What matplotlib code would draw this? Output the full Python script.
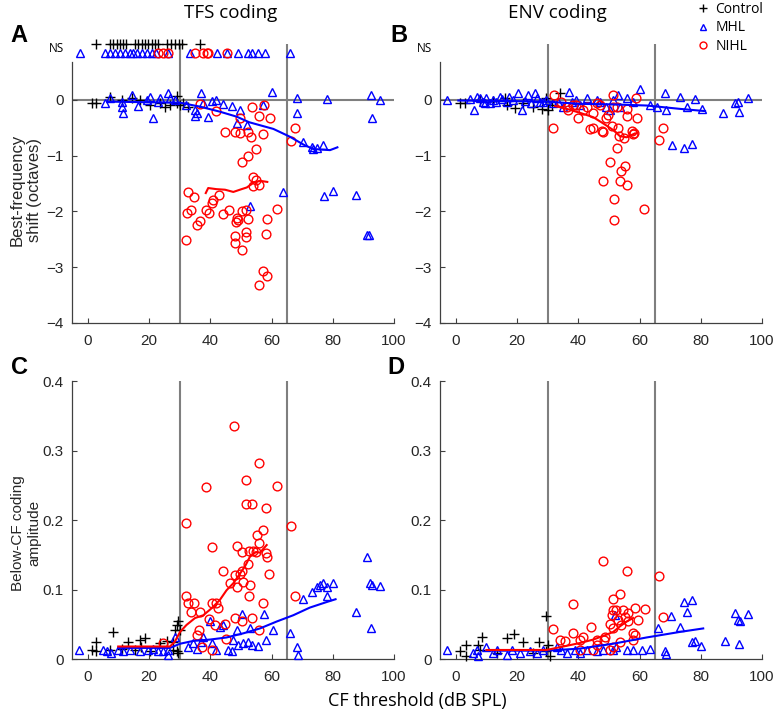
import matplotlib
matplotlib.use("Agg")
import matplotlib.pyplot as plt
from matplotlib.lines import Line2D

# ---------- A: TFS best-frequency shift ----------
a_ctl_x = [1.2, 2.6, 7.2, 11.0, 14.3, 17.0, 20.3, 23.5, 25.2, 26.8, 29.0, 29.0, 30.1, 31.1, 32.8]
a_ctl_y = [-0.05, -0.05, 0.06, 0.0, 0.03, 0.0, -0.09, -0.06, -0.13, -0.09, 0.07, -0.06, -0.09, -0.06, -0.12]
a_ctl_ns_x = [2.8, 7.2, 8.3, 9.4, 10.5, 11.6, 12.4, 15.4, 16.5, 17.6, 18.6, 19.7, 20.8, 21.9, 23.0,
              25.7, 27.0, 28.4, 29.7, 30.9, 36.6]
a_mhl_x = [5.6, 7.2, 11.0, 11.0, 11.5, 14.3, 16.4, 19.2, 20.3, 21.3, 23.0, 23.5, 26.2, 26.8, 28.4,
           32.2, 35.0, 35.0, 35.5, 37.1, 37.7, 39.3, 40.4, 42.0, 44.2, 47.0, 48.6, 49.7, 51.9, 57.3,
           60.0, 68.4, 68.4, 70.4, 73.1, 73.6, 74.7, 76.9, 78.0, 92.4, 92.7, 95.4, 52.9, 63.6, 77.1,
           80.0, 87.6, 91.3, 91.9]
a_mhl_y = [-0.06, 0.03, -0.03, -0.13, -0.23, 0.09, -0.11, 0.0, 0.06, -0.33, -0.03, 0.03, 0.12, 0.03, 0.0,
           -0.09, -0.18, -0.29, -0.23, 0.12, -0.05, -0.31, -0.01, 0.0, -0.07, -0.11, -0.41, -0.18, -0.45, -0.09,
           0.15, 0.03, -0.23, -0.75, -0.85, -0.88, -0.87, -0.80, 0.01, 0.09, -0.32, 0.0, -1.90, -1.66, -1.73,
           -1.63, -1.71, -2.42, -2.42]
a_mhl_ns_x = [-2.6, 5.6, 7.2, 8.9, 10.5, 12.1, 13.8, 14.8, 15.9, 17.6, 19.2, 20.8, 22.4, 26.3, 33.4,
              42.1, 45.3, 49.1, 52.4, 53.5, 55.7, 57.8, 66.0]
a_nihl_x = [36.6, 41.8, 44.8, 48.0, 49.7, 49.7, 52.4, 53.2, 53.5, 56.0, 57.5, 57.3, 59.5, 66.2, 67.6,
            50.5, 52.4, 54.9, 53.8, 54.9, 56.0, 53.8, 32.8, 34.6, 42.7, 40.9, 40.4, 32.3, 33.7, 38.5,
            39.6, 44.0, 46.1, 36.6, 35.8, 48.6, 48.9, 48.4, 50.5, 51.6, 52.4, 58.4, 61.7, 31.9, 48.0,
            48.0, 51.6, 51.6, 50.5, 58.2, 57.3, 58.4, 56.0]
a_nihl_y = [-0.07, -0.20, -0.57, -0.57, -0.33, -0.60, -0.57, -0.66, -0.12, -0.29, -0.09, -0.61, -0.32, -0.73, -0.51,
            -1.12, -1.00, -0.88, -1.38, -1.43, -1.52, -1.55, -1.65, -1.74, -1.70, -1.79, -1.84, -2.03, -1.97, -1.97,
            -2.02, -2.05, -1.98, -2.18, -2.24, -2.12, -2.16, -2.19, -1.99, -1.97, -2.13, -2.13, -1.96, -2.52, -2.44,
            -2.56, -2.36, -2.45, -2.70, -2.40, -3.06, -3.15, -3.32]
a_nihl_ns_x = [23.0, 24.6, 26.3, 35.0, 37.7, 38.8, 39.3, 45.3]
a_mhl_fit_x = [6.6, 18.1, 30.1, 36.6, 43.1, 48.6, 52.7, 60.6, 66.0, 70.4, 73.6, 79.1, 81.5]
a_mhl_fit_y = [-0.03, -0.04, -0.05, -0.12, -0.21, -0.30, -0.40, -0.52, -0.66, -0.80, -0.88, -0.90, -0.85]
a_nihl_fit_x = [38.5, 39.3, 42.0, 44.8, 47.5, 50.2, 51.9, 54.0, 56.2, 58.6]
a_nihl_fit_y = [-1.67, -1.58, -1.60, -1.61, -1.65, -1.60, -1.57, -1.49, -1.45, -1.47]

# ---------- B: ENV best-frequency shift ----------
b_ctl_x = [1.3, 2.9, 7.8, 12.2, 16.0, 16.6, 19.3, 22.0, 25.3, 28.0, 30.2, 31.3, 34.0, 29.6]
b_ctl_y = [-0.05, -0.05, 0.0, -0.01, 0.03, -0.09, -0.15, -0.05, -0.13, -0.17, -0.18, -0.09, 0.12, 0.03]
b_mhl_x = [-2.8, 5.9, 6.8, 7.8, 8.9, 11.1, 12.2, 14.4, 16.6, 18.7, 20.4, 21.5, 23.6, 25.8, 27.5,
           29.6, 31.8, 33.4, 35.1, 37.0, 37.8, 39.4, 40.5, 42.7, 46.0, 47.1, 49.2, 50.3, 51.4, 53.0,
           53.6, 55.8, 57.9, 60.1, 63.4, 65.6, 68.3, 68.6, 70.5, 73.2, 74.5, 75.4, 77.0, 78.1, 80.3,
           87.4, 91.2, 92.3, 92.6, 95.5, 4.5, 9.5, 10.0, 13.0, 15.0, 17.5, 22.5, 24.5, 26.5, 28.5]
b_mhl_y = [0.0, -0.18, 0.06, 0.03, -0.03, -0.06, 0.0, 0.06, -0.03, 0.0, 0.12, -0.18, 0.09, 0.13, -0.03,
           0.0, -0.06, -0.03, -0.12, 0.15, -0.03, 0.0, -0.09, 0.03, 0.0, -0.03, -0.12, -0.18, 0.0, 0.09,
           -0.12, 0.03, -0.03, 0.19, -0.09, -0.13, 0.12, -0.18, -0.81, 0.06, -0.87, -0.12, -0.79, 0.01, -0.17,
           -0.24, -0.06, -0.03, -0.21, 0.03, 0.02, -0.05, 0.04, -0.04, 0.02, 0.05, -0.02, -0.06, 0.03, -0.04]
b_nihl_x = [31.8, 32.0, 34.5, 36.7, 38.3, 40.0, 41.6, 44.9, 46.0, 43.8, 44.9, 47.6, 48.1, 49.0, 49.8,
            50.9, 51.4, 52.7, 53.0, 53.4, 55.0, 55.8, 56.0, 57.4, 57.9, 58.1, 59.0, 59.3, 52.7, 66.4,
            67.8, 36.2, 39.4, 42.7, 47.1, 51.4, 50.5, 55.2, 53.8, 47.9, 53.6, 55.8, 51.6, 61.5, 51.6]
b_nihl_y = [-0.50, 0.09, -0.03, -0.18, -0.09, -0.33, -0.18, -0.23, -0.06, -0.53, -0.50, -0.55, -0.57, -0.33, -0.27,
            -0.47, 0.09, -0.13, -0.51, -0.65, -0.69, -0.17, -0.29, -0.55, -0.61, -0.60, 0.03, -0.32, -0.87, -0.72,
            -0.51, -0.13, -0.09, -0.12, -0.09, -0.12, -1.12, -1.18, -1.27, -1.46, -1.46, -1.53, -1.78, -1.96, -2.16]
b_mhl_fit_x = [0.8, 16.6, 29.6, 40.5, 51.4, 62.3, 73.2, 81.4]
b_mhl_fit_y = [-0.01, -0.02, -0.03, -0.07, -0.08, -0.10, -0.16, -0.20]
b_nihl_fit_x = [32.4, 36.2, 40.5, 44.9, 48.1, 51.4, 53.6, 55.8, 58.5]
b_nihl_fit_y = [-0.11, -0.16, -0.23, -0.31, -0.42, -0.54, -0.65, -0.67, -0.60]

# ---------- C: TFS below-CF amplitude ----------
c_ctl_x = [1.2, 2.8, 2.8, 8.3, 7.2, 11.0, 13.2, 15.4, 17.0, 18.6, 17.5, 20.3, 23.5, 25.7, 27.9,
           29.0, 29.5, 28.4, 30.1, 29.0, 29.5, 27.9]
c_ctl_y = [0.013, 0.025, 0.011, 0.039, 0.013, 0.015, 0.025, 0.013, 0.028, 0.030, 0.018, 0.011, 0.023, 0.026, 0.013,
           0.049, 0.054, 0.042, 0.042, 0.011, 0.008, 0.025]
c_mhl_x = [-2.8, 5.0, 6.1, 7.7, 9.9, 11.5, 13.7, 17.0, 19.7, 21.3, 23.0, 24.6, 26.2, 26.2, 28.4,
           32.8, 34.4, 35.5, 37.1, 37.7, 39.9, 40.4, 42.0, 43.1, 44.2, 45.9, 47.0, 47.5, 48.6, 49.1,
           50.2, 50.8, 52.4, 52.9, 53.5, 55.7, 57.5, 58.2, 60.6, 66.0, 68.2, 68.7, 70.4, 73.3, 74.7,
           75.8, 76.9, 78.0, 78.0, 80.2, 87.6, 91.3, 92.2, 92.7, 92.4, 95.4]
c_mhl_y = [0.013, 0.013, 0.011, 0.008, 0.013, 0.011, 0.013, 0.011, 0.013, 0.015, 0.011, 0.011, 0.013, 0.006, 0.032,
           0.018, 0.023, 0.015, 0.025, 0.032, 0.054, 0.023, 0.013, 0.046, 0.049, 0.013, 0.011, 0.027, 0.042, 0.020,
           0.065, 0.023, 0.025, 0.044, 0.020, 0.019, 0.065, 0.027, 0.042, 0.037, 0.018, 0.006, 0.087, 0.097, 0.104,
           0.106, 0.109, 0.104, 0.090, 0.110, 0.068, 0.147, 0.110, 0.106, 0.044, 0.105]
c_nihl_x = [47.8, 55.8, 51.5, 38.5, 61.7, 51.5, 53.7, 58.3, 31.9, 66.3, 57.2, 55.1, 56.0, 40.5, 48.6,
            50.5, 52.7, 53.8, 54.9, 58.2, 58.4, 59.3, 44.0, 52.4, 50.5, 48.0, 49.7, 46.4, 48.6, 50.8,
            52.9, 52.7, 32.2, 32.8, 34.7, 33.7, 36.6, 40.4, 42.0, 42.6, 39.6, 36.4, 41.5, 44.8, 50.2,
            48.0, 53.5, 57.3, 56.0, 45.1, 35.7, 37.2, 40.4, 67.6, 24.6]
c_nihl_y = [0.335, 0.282, 0.258, 0.247, 0.249, 0.223, 0.223, 0.217, 0.196, 0.192, 0.185, 0.179, 0.167, 0.161, 0.163,
            0.154, 0.155, 0.156, 0.154, 0.153, 0.147, 0.122, 0.127, 0.137, 0.126, 0.121, 0.123, 0.109, 0.104, 0.111,
            0.106, 0.090, 0.090, 0.080, 0.081, 0.067, 0.068, 0.080, 0.080, 0.074, 0.057, 0.042, 0.049, 0.050, 0.054,
            0.059, 0.059, 0.081, 0.042, 0.029, 0.035, 0.018, 0.013, 0.091, 0.023]
c_mhl_fit_x = [9.9, 26.8, 30.1, 34.4, 39.9, 45.3, 50.8, 56.2, 61.7, 67.1, 72.5, 78.0, 80.9]
c_mhl_fit_y = [0.016, 0.016, 0.022, 0.026, 0.028, 0.031, 0.037, 0.044, 0.054, 0.063, 0.074, 0.082, 0.086]
c_nihl_fit_x = [9.9, 26.8, 28.4, 30.1, 32.2, 35.0, 37.7, 40.4, 43.1, 45.3, 47.5, 49.7, 51.4, 52.9, 54.9, 56.2, 58.4]
c_nihl_fit_y = [0.018, 0.018, 0.025, 0.039, 0.049, 0.059, 0.063, 0.073, 0.085, 0.099, 0.109, 0.123, 0.134, 0.147,
                0.154, 0.153, 0.164]

# ---------- D: ENV below-CF amplitude ----------
d_ctl_x = [1.3, 3.3, 3.3, 7.3, 8.4, 16.6, 19.1, 21.8, 27.2, 29.4, 29.6, 30.2, 30.7, 7.8, 13.3, 25.3]
d_ctl_y = [0.011, 0.020, 0.004, 0.020, 0.031, 0.030, 0.036, 0.025, 0.025, 0.062, 0.011, 0.020, 0.004, 0.013, 0.008, 0.008]
d_mhl_x = [-2.8, 5.7, 6.8, 7.3, 10.0, 12.2, 13.3, 16.6, 18.2, 20.9, 24.2, 26.4, 28.5, 32.9, 34.5,
           36.2, 38.9, 40.5, 42.7, 46.0, 48.1, 51.4, 52.0, 52.2, 55.8, 57.9, 60.7, 63.4, 65.9, 68.3,
           68.6, 70.2, 73.2, 74.5, 77.0, 75.6, 77.0, 78.1, 80.0, 87.9, 91.2, 92.3, 92.8, 92.6, 95.5]
d_mhl_y = [0.013, 0.008, 0.013, 0.004, 0.018, 0.008, 0.013, 0.006, 0.013, 0.008, 0.011, 0.008, 0.013, 0.018, 0.013,
           0.008, 0.013, 0.008, 0.013, 0.011, 0.013, 0.013, 0.063, 0.018, 0.013, 0.013, 0.013, 0.014, 0.044, 0.011,
           0.007, 0.062, 0.046, 0.082, 0.085, 0.068, 0.025, 0.026, 0.019, 0.026, 0.066, 0.056, 0.054, 0.022, 0.065]
d_nihl_x = [47.9, 55.8, 66.4, 53.6, 51.4, 38.3, 58.5, 61.8, 51.4, 56.3, 67.8, 55.2, 53.0, 50.3, 51.4,
            54.1, 59.6, 57.9, 58.5, 57.9, 31.8, 44.3, 38.3, 41.6, 34.0, 35.6, 40.5, 46.0, 48.7, 48.4,
            53.6, 51.4, 50.3, 44.9, 40.5, 46.0, 56.1, 50.9, 52.2, 54.7]
d_nihl_y = [0.141, 0.127, 0.119, 0.094, 0.087, 0.079, 0.073, 0.072, 0.070, 0.066, 0.061, 0.061, 0.056, 0.051, 0.044,
            0.049, 0.056, 0.037, 0.035, 0.027, 0.043, 0.046, 0.038, 0.031, 0.028, 0.026, 0.027, 0.027, 0.031, 0.028,
            0.025, 0.018, 0.013, 0.013, 0.013, 0.020, 0.054, 0.063, 0.070, 0.070]
d_mhl_fit_x = [10.0, 29.6, 40.5, 51.4, 62.3, 73.2, 80.8]
d_mhl_fit_y = [0.012, 0.012, 0.015, 0.022, 0.031, 0.039, 0.044]
d_nihl_fit_x = [10.0, 29.6, 35.1, 40.5, 44.9, 49.2, 51.4, 53.6, 55.8, 57.9]
d_nihl_fit_y = [0.013, 0.013, 0.018, 0.023, 0.028, 0.035, 0.039, 0.047, 0.054, 0.059]

xticks = [0, 20, 40, 60, 80, 100]
bf_ticks = [-4, -3, -2, -1, 0]
amp_ticks = [0, 0.1, 0.2, 0.3, 0.4]
amp_ticklabels = ["0", "0.1", "0.2", "0.3", "0.4"]
boundaries = [30, 65]

TICKFONT = "Liberation Sans"
TEXTFONT = "Open Sans"
GRAY = "#7f7f7f"
AXC = "#404040"
mk = dict(ls="none", mfc="none", mew=1.0, clip_on=False, zorder=3)


def style(ax, yticks, ylim, ylabels=None):
    ax.set_xlim(-5.2, 100)
    ax.set_ylim(*ylim)
    for s in ("top", "right"):
        ax.spines[s].set_visible(False)
    for s in ("left", "bottom"):
        ax.spines[s].set_color(AXC)
        ax.spines[s].set_linewidth(0.9)
    ax.set_xticks(xticks)
    ax.set_yticks(yticks)
    if ylabels is not None:
        ax.set_yticklabels(ylabels)
    ax.tick_params(direction="in", length=3.5, width=0.8, color=AXC, labelcolor="#262626",
                   labelsize=11)
    ax.tick_params(axis="x", pad=8)
    ax.tick_params(axis="y", pad=6)
    for lab in ax.get_xticklabels() + ax.get_yticklabels():
        lab.set_family(TICKFONT)
    for b in boundaries:
        ax.axvline(b, color=GRAY, lw=1.5, zorder=1)


def groups(ax, ctl, mhl, nihl, mfit, nfit):
    ax.plot(*ctl, marker="+", color="k", ms=7, **mk)
    ax.plot(*mhl, marker="^", mec="#0000ff", ms=6.3, **mk)
    ax.plot(*nihl, marker="o", mec="#ff0000", ms=6.3, **mk)
    ax.plot(*mfit, color="#0000ff", lw=1.5, zorder=4)
    ax.plot(*nfit, color="#ff0000", lw=1.5, zorder=4)


fig = plt.figure(figsize=(7.75, 7.15), dpi=100)
axA = fig.add_axes([0.0929, 0.5483, 0.4155, 0.3899])
axB = fig.add_axes([0.5677, 0.5483, 0.4155, 0.3899])
axC = fig.add_axes([0.0929, 0.0783, 0.4155, 0.3888])
axD = fig.add_axes([0.5677, 0.0783, 0.4155, 0.3888])

for ax in (axA, axB):
    style(ax, bf_ticks, (-4, 1.0))
    ax.spines["left"].set_bounds(-4, 0.68)
    ax.axhline(0, color=GRAY, lw=1.5, zorder=1)
for ax in (axC, axD):
    style(ax, amp_ticks, (0, 0.4), amp_ticklabels)

groups(axA, (a_ctl_x, a_ctl_y), (a_mhl_x, a_mhl_y), (a_nihl_x, a_nihl_y),
       (a_mhl_fit_x, a_mhl_fit_y), (a_nihl_fit_x, a_nihl_fit_y))
# NS (not significant) row above the axis
axA.plot(a_ctl_ns_x, [1.0] * len(a_ctl_ns_x), marker="+", color="k", ms=7, **mk)
axA.plot(a_mhl_ns_x, [0.85] * len(a_mhl_ns_x), marker="^", mec="#0000ff", ms=6.3, **mk)
axA.plot(a_nihl_ns_x, [0.85] * len(a_nihl_ns_x), marker="o", mec="#ff0000", ms=6.3, **mk)

groups(axB, (b_ctl_x, b_ctl_y), (b_mhl_x, b_mhl_y), (b_nihl_x, b_nihl_y),
       (b_mhl_fit_x, b_mhl_fit_y), (b_nihl_fit_x, b_nihl_fit_y))
groups(axC, (c_ctl_x, c_ctl_y), (c_mhl_x, c_mhl_y), (c_nihl_x, c_nihl_y),
       (c_mhl_fit_x, c_mhl_fit_y), (c_nihl_fit_x, c_nihl_fit_y))
groups(axD, (d_ctl_x, d_ctl_y), (d_mhl_x, d_mhl_y), (d_nihl_x, d_nihl_y),
       (d_mhl_fit_x, d_mhl_fit_y), (d_nihl_fit_x, d_nihl_fit_y))

W, H = 775, 715
def ft(x, y, s, **kw):
    fig.text(x / W, 1 - y / H, s, **kw)

ft(56, 48, "NS", family=TEXTFONT, fontsize=8.5, ha="center", va="center")
ft(425, 48, "NS", family=TEXTFONT, fontsize=8.5, ha="center", va="center")
ft(231, 13, "TFS coding", family=TEXTFONT, fontsize=13.5, ha="center", va="center")
ft(557, 13, "ENV coding", family=TEXTFONT, fontsize=13.5, ha="center", va="center")
for lx, ly, lt in [(19, 36, "A"), (399, 36, "B"), (19, 368, "C"), (396, 368, "D")]:
    ft(lx, ly, lt, family=TICKFONT, fontsize=17, fontweight="bold", ha="center", va="center")
ft(26, 190, "Best-frequency\nshift (octaves)", family=TICKFONT, fontsize=12, rotation=90,
   ha="center", va="center", multialignment="center", color="#262626")
ft(26, 533, "Below-CF coding\namplitude", family=TICKFONT, fontsize=11, rotation=90,
   ha="center", va="center", multialignment="center", color="#262626")
ft(417, 701, "CF threshold (dB SPL)", family=TEXTFONT, fontsize=13, ha="center", va="center")

handles = [Line2D([], [], marker="+", color="k", ls="none", ms=6, mew=1.0),
           Line2D([], [], marker="^", mec="#0000ff", mfc="none", ls="none", ms=5, mew=1.0),
           Line2D([], [], marker="o", mec="#ff0000", mfc="none", ls="none", ms=5, mew=1.0)]
fig.legend(handles, ["Control", "MHL", "NIHL"], loc="upper left", bbox_to_anchor=(692 / W, 1.005),
           frameon=False, handlelength=0.8, handletextpad=0.5, labelspacing=0.25, borderaxespad=0,
           prop=dict(family=TEXTFONT, size=10))

fig.savefig("out.png", dpi=100)
